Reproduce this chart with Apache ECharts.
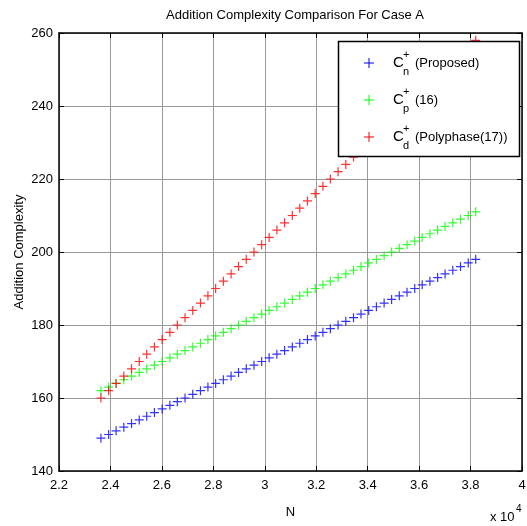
<!DOCTYPE html>
<html>
<head>
<meta charset="utf-8">
<script src="https://cdn.jsdelivr.net/npm/echarts@6/dist/echarts.min.js"></script>
<style>
  html, body { margin: 0; padding: 0; background: #fff; }
  #main { width: 527px; height: 526px; }
</style>
</head>
<body>
<div id="main"></div>
<script>
// N in units of 10^4
var N = [2.363, 2.393, 2.422, 2.452, 2.482, 2.512, 2.541, 2.571, 2.601, 2.631,
         2.660, 2.690, 2.720, 2.750, 2.779, 2.809, 2.839, 2.869, 2.898, 2.928,
         2.958, 2.988, 3.017, 3.047, 3.077, 3.107, 3.136, 3.166, 3.196, 3.226,
         3.255, 3.285, 3.315, 3.345, 3.374, 3.404, 3.434, 3.464, 3.493, 3.523,
         3.553, 3.583, 3.612, 3.642, 3.672, 3.701, 3.731, 3.761, 3.791, 3.820];
var proposed = [149, 150, 151, 152, 153, 154, 155, 156, 157, 158,
                159, 160, 161, 162, 163, 164, 165, 166, 167, 168,
                169, 170, 171, 172, 173, 174, 175, 176, 177, 178,
                179, 180, 181, 182, 183, 184, 185, 186, 187, 188,
                189, 190, 191, 192, 193, 194, 195, 196, 197, 198];
var ref16 = [162, 163, 164, 165, 166, 167, 168, 169, 170, 171,
             172, 173, 174, 175, 176, 177, 178, 179, 180, 181,
             182, 183, 184, 185, 186, 187, 188, 189, 190, 191,
             192, 193, 194, 195, 196, 197, 198, 199, 200, 201,
             202, 203, 204, 205, 206, 207, 208, 209, 210, 211];
var polyphase = [160, 162, 164, 166, 168, 170, 172, 174, 176, 178,
                 180, 182, 184, 186, 188, 190, 192, 194, 196, 198,
                 200, 202, 204, 206, 208, 210, 212, 214, 216, 218,
                 220, 222, 224, 226, 228, 230, 232, 234, 236, 238,
                 240, 242, 244, 246, 248, 250, 252, 254, 256, 258];
var seriesNames = ['(Proposed)', '(16)', '(Polyphase(17))'];
var seriesSubs = ['n', 'p', 'd'];
var seriesColors = ['#0000ff', '#00ff00', '#ff0000'];

var font = 'Liberation Sans, Arial, sans-serif';
var plus = 'path://M0,5L10,5M5,0L5,10';

function pairs(ys) {
  return ys.map(function (y, i) { return [N[i], y]; });
}

var myChart = echarts.init(document.getElementById('main'));

// legend box drawn by hand, MATLAB style (C with stacked sup/sub)
var legendGraphics = [{
  type: 'rect', z: 100,
  shape: { x: 338.5, y: 41.5, width: 181, height: 115 },
  style: { fill: '#fff', stroke: '#000', lineWidth: 1.5 }
}];
var rowsY = [63, 100, 137];
for (var i = 0; i < 3; i++) {
  var y = rowsY[i];
  legendGraphics.push(
    { type: 'line', z: 101, shape: { x1: 364, y1: y, x2: 374, y2: y }, style: { stroke: seriesColors[i], lineWidth: 1 } },
    { type: 'line', z: 101, shape: { x1: 369, y1: y - 5, x2: 369, y2: y + 5 }, style: { stroke: seriesColors[i], lineWidth: 1 } },
    { type: 'text', z: 101, x: 393, y: y, style: { text: 'C', font: '15px ' + font, fill: '#000', textVerticalAlign: 'middle' } },
    { type: 'text', z: 101, x: 403, y: y - 8, style: { text: '+', font: '11px ' + font, fill: '#000', textVerticalAlign: 'middle' } },
    { type: 'text', z: 101, x: 403, y: y + 9, style: { text: seriesSubs[i], font: '11px ' + font, fill: '#000', textVerticalAlign: 'middle' } },
    { type: 'text', z: 101, x: 415, y: y, style: { text: seriesNames[i], font: '13px ' + font, fill: '#000', textVerticalAlign: 'middle' } }
  );
}
legendGraphics.push(
  { type: 'text', x: 490, y: 517, style: { text: 'x 10', font: '13px ' + font, fill: '#000', textVerticalAlign: 'middle' } },
  { type: 'text', x: 516, y: 509, style: { text: '4', font: '10px ' + font, fill: '#000', textVerticalAlign: 'middle' } }
);

function mkSeries(name, ys, color) {
  return {
    name: name,
    type: 'scatter',
    data: pairs(ys),
    symbol: plus,
    symbolSize: 9,
    itemStyle: { color: 'transparent', borderColor: color, borderWidth: 1.2 },
    emphasis: { disabled: true },
    animation: false
  };
}

myChart.setOption({
  animation: false,
  title: {
    text: 'Addition Complexity Comparison For Case A',
    left: 290, top: 4, textAlign: 'center',
    textStyle: { fontFamily: font, fontSize: 13, fontWeight: 'normal', color: '#000' }
  },
  grid: { left: 59, right: 5, top: 33, bottom: 55, outerBoundsMode: 'none' },
  xAxis: [{
    type: 'value', min: 2.2, max: 4, interval: 0.2,
    name: 'N', nameLocation: 'middle', nameGap: 35,
    nameTextStyle: { fontFamily: font, fontSize: 13, color: '#000' },
    axisLine: { lineStyle: { color: '#000', width: 1.5 } },
    axisTick: { inside: true, length: 5, lineStyle: { color: '#000' } },
    axisLabel: { fontFamily: font, fontSize: 13, color: '#000', margin: 8 },
    splitLine: { show: true, lineStyle: { color: '#999', width: 1 } }
  }, {
    type: 'value', min: 2.2, max: 4, interval: 0.2, position: 'top',
    axisLine: { show: true, lineStyle: { color: '#000', width: 1.5 } },
    axisTick: { inside: true, length: 5, lineStyle: { color: '#000' } },
    axisLabel: { show: false }, splitLine: { show: false }
  }],
  yAxis: [{
    type: 'value', min: 140, max: 260, interval: 20,
    name: 'Addition Complexity', nameLocation: 'middle', nameGap: 33,
    nameMoveOverlap: false,
    nameTextStyle: { fontFamily: font, fontSize: 13, color: '#000' },
    axisLine: { show: true, lineStyle: { color: '#000', width: 1.5 } },
    axisTick: { show: true, inside: true, length: 5, lineStyle: { color: '#000' } },
    axisLabel: { fontFamily: font, fontSize: 13, color: '#000', margin: 6 },
    splitLine: { show: true, lineStyle: { color: '#999', width: 1 } }
  }, {
    type: 'value', min: 140, max: 260, interval: 20, position: 'right',
    axisLine: { show: true, lineStyle: { color: '#000', width: 1.5 } },
    axisTick: { show: true, inside: true, length: 5, lineStyle: { color: '#000' } },
    axisLabel: { show: false }, splitLine: { show: false }
  }],
  graphic: legendGraphics,
  series: [
    mkSeries('Proposed', proposed, seriesColors[0]),
    mkSeries('(16)', ref16, seriesColors[1]),
    mkSeries('(Polyphase(17))', polyphase, seriesColors[2])
  ]
});

window.addEventListener('resize', function () {
  myChart.resize();
});
</script>
</body>
</html>
